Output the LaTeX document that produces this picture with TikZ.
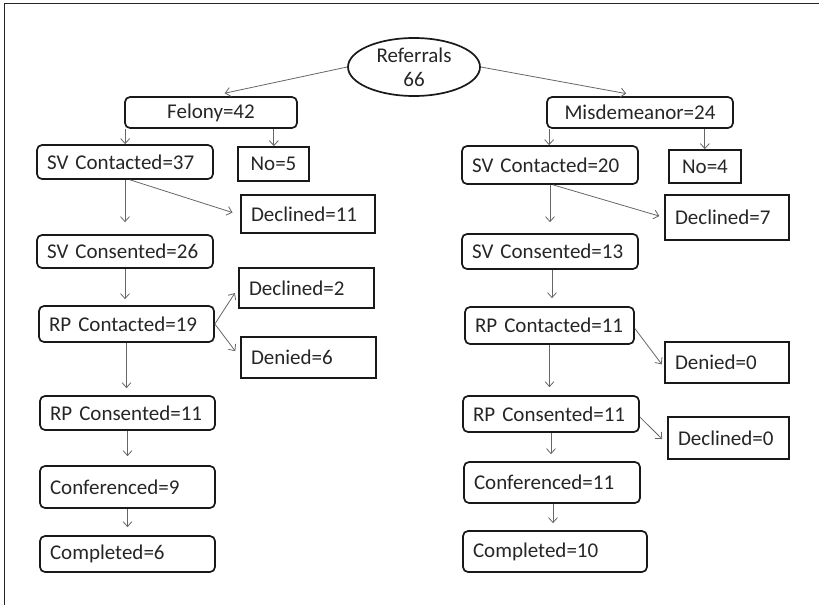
\documentclass[tikz,border=0pt]{standalone}
\usepackage{fontspec}
\setmainfont{Carlito}
\usetikzlibrary{arrows.meta,shapes.geometric}
\begin{document}
\begin{tikzpicture}[x=1pt,y=-1pt,
  lbl/.style={font=\fontsize{21}{24}\selectfont, text=black!85},
  rbox/.style={lbl, draw=black!90, line width=1.7pt, rounded corners=5pt, inner xsep=10pt, inner ysep=0pt, align=left},
  sbox/.style={lbl, draw=black!90, line width=1.7pt, inner xsep=10pt, inner ysep=0pt, align=left},
  arr/.style={draw=black!60, line width=0.8pt, -{Straight Barb[length=5pt,width=9pt]}},
  frame/.style={draw=black!85, line width=1.2pt}
]
\useasboundingbox (0,0) rectangle (819,605);
\draw[frame] (819,3.5) -- (4.5,3.5) -- (4.5,605);

% root
\node[ellipse, draw=black!90, line width=1.7pt, minimum width=132pt, minimum height=58pt, inner sep=0pt, lbl, align=center] (ref) at (414,67) {Referrals\\66};

% left branch
\node[rbox, align=center, text width=152pt, minimum height=31pt] (fel) at (211,112.5) {Felony=42};
\node[rbox, text width=156pt, minimum height=34pt] (svc1) at (125,162) {SV Contacted=37};
\node[sbox, align=center, text width=51pt, minimum height=34pt] (no1) at (273.5,164) {No=5};
\node[sbox, text width=114pt, minimum height=38pt] (dec1) at (308,214) {Declined=11};
\node[rbox, text width=156pt, minimum height=33pt] (svs1) at (125,251.5) {SV Consented=26};
\node[sbox, text width=115pt, minimum height=40pt] (dec2) at (306.5,288) {Declined=2};
\node[rbox, text width=155pt, minimum height=36pt] (rpc1) at (126.5,324) {RP Contacted=19};
\node[sbox, text width=115pt, minimum height=41pt] (den1) at (308.5,357.5) {Denied=6};
\node[rbox, text width=155pt, minimum height=34pt] (rps1) at (127.5,413) {RP Consented=11};
\node[rbox, text width=155pt, minimum height=42pt] (con1) at (127.5,487) {Conferenced=9};
\node[rbox, text width=155pt, minimum height=36pt] (com1) at (127.5,554) {Completed=6};

% right branch
\node[rbox, align=center, text width=166pt, minimum height=31pt] (mis) at (640,112.5) {Misdemeanor=24};
\node[rbox, text width=156pt, minimum height=38pt] (svc2) at (550,165) {SV Contacted=20};
\node[sbox, align=center, text width=52pt, minimum height=33pt] (no2) at (705,166.5) {No=4};
\node[sbox, text width=104pt, minimum height=45pt] (dec3) at (727,217.5) {Declined=7};
\node[rbox, text width=156pt, minimum height=35pt] (svs2) at (550,251.5) {SV Consented=13};
\node[rbox, text width=149pt, minimum height=37pt] (rpc2) at (549.5,325.5) {RP Contacted=11};
\node[sbox, text width=104pt, minimum height=41pt] (den2) at (727,362.5) {Denied=0};
\node[rbox, text width=156pt, minimum height=36pt] (rps2) at (551,414) {RP Consented=11};
\node[sbox, text width=101pt, minimum height=42pt] (dec4) at (728.5,438) {Declined=0};
\node[rbox, text width=156pt, minimum height=41pt] (con2) at (552,482.5) {Conferenced=11};
\node[rbox, text width=164pt, minimum height=41pt] (com2) at (555,551.5) {Completed=10};

% connectors: root
\draw[arr, shorten >=14pt] (ref.west) -- (fel.north);
\draw[arr, shorten >=14pt] (ref.east) -- (mis.north);

% left connectors
\draw[arr] ([xshift=1pt]fel.south west) -- ([xshift=1pt]fel.south west |- svc1.north);
\draw[arr] ([xshift=-24pt]fel.south east) -- ([xshift=-24pt]fel.south east |- no1.north);
\draw[arr, shorten >=8pt] ([xshift=5pt]svc1.south) -- ([yshift=-1pt]dec1.west);
\draw[arr, shorten >=12pt] (svc1.south) -- (svc1.south |- svs1.north);
\draw[arr, shorten >=6pt] (svs1.south) -- (svs1.south |- rpc1.north);
\draw[arr, shorten >=6pt] (rpc1.east) -- (dec2.west);
\draw[arr, shorten >=8pt] (rpc1.east) -- (den1.west);
\draw[arr, shorten >=7pt] (rpc1.south) -- (rpc1.south |- rps1.north);
\draw[arr, shorten >=9pt] (rps1.south) -- (rps1.south |- con1.north);
\draw[arr, shorten >=8pt] (con1.south) -- (con1.south |- com1.north);

% right connectors
\draw[arr] ([xshift=3pt]mis.south west) -- ([xshift=3pt]mis.south west |- svc2.north);
\draw[arr] ([xshift=-29pt]mis.south east) -- ([xshift=-29pt]mis.south east |- no2.north);
\draw[arr, shorten >=5pt] ([xshift=3pt]svc2.south) -- (dec3.west);
\draw[arr, shorten >=11pt] (svc2.south) -- (svc2.south |- svs2.north);
\draw[arr, shorten >=8pt] ([xshift=2pt]svs2.south) -- ([xshift=2pt]svs2.south |- rpc2.north);
\draw[arr, shorten >=4pt] ([yshift=-3pt]rpc2.east) -- ([yshift=-5pt]den2.west);
\draw[arr, shorten >=8pt] (rpc2.south) -- (rpc2.south |- rps2.north);
\draw[arr, shorten >=7pt] ([yshift=-3pt]rps2.east) -- ([yshift=-6pt]dec4.west);
\draw[arr, shorten >=7pt] (rps2.south) -- (rps2.south |- con2.north);
\draw[arr, shorten >=7pt] ([xshift=1pt]con2.south) -- ([xshift=1pt]con2.south |- com2.north);
\end{tikzpicture}
\end{document}
